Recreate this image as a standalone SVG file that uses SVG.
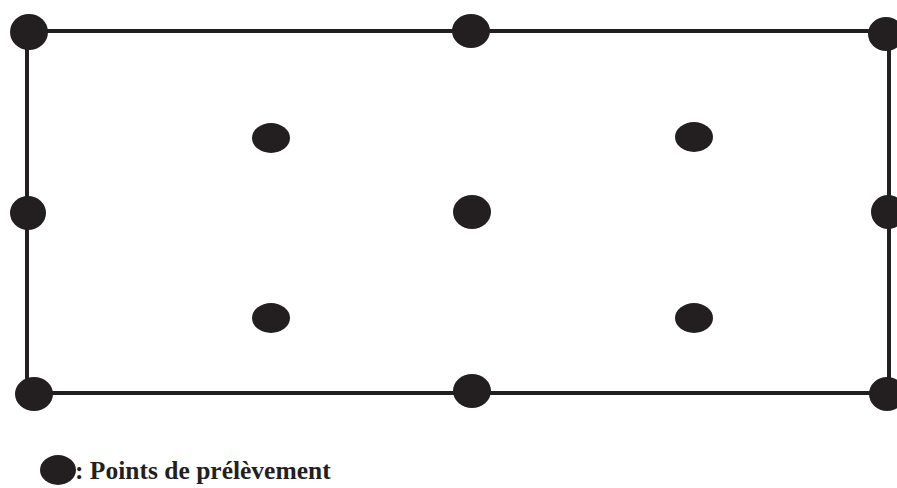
<svg xmlns="http://www.w3.org/2000/svg" width="897" height="488" viewBox="0 0 897 488">
<style>
.frame{fill:none;stroke:#231f20;stroke-width:4}
.pt{fill:#231f20}
.lbl{font-family:"Liberation Serif","Times New Roman",serif;font-weight:bold;font-size:25.5px;fill:#231f20}
</style>
<rect width="897" height="488" fill="#ffffff"/>
<g id="connectors">
<rect class="frame" x="27" y="31" width="862" height="362"/>
</g>
<g id="p-tl"><ellipse class="pt" cx="29" cy="32" rx="19" ry="18"/></g>
<g id="p-tm"><ellipse class="pt" cx="471" cy="31" rx="19" ry="17"/></g>
<g id="p-tr"><ellipse class="pt" cx="886" cy="34" rx="18" ry="17"/></g>
<g id="p-ml"><ellipse class="pt" cx="28" cy="213" rx="18" ry="17"/></g>
<g id="p-c"><ellipse class="pt" cx="472" cy="212" rx="19" ry="17"/></g>
<g id="p-mr"><ellipse class="pt" cx="888" cy="212" rx="17" ry="17"/></g>
<g id="p-bl"><ellipse class="pt" cx="34" cy="394" rx="19" ry="17"/></g>
<g id="p-bm"><ellipse class="pt" cx="472" cy="391" rx="19" ry="17"/></g>
<g id="p-br"><ellipse class="pt" cx="887" cy="394" rx="18" ry="17"/></g>
<g id="p-i1"><ellipse class="pt" cx="271" cy="138" rx="19" ry="15"/></g>
<g id="p-i2"><ellipse class="pt" cx="694" cy="137" rx="19" ry="15"/></g>
<g id="p-i3"><ellipse class="pt" cx="271" cy="318" rx="19" ry="15"/></g>
<g id="p-i4"><ellipse class="pt" cx="694" cy="318" rx="19" ry="15"/></g>
<g id="legend">
<ellipse class="pt" cx="58" cy="470" rx="18" ry="15"/>
<text class="lbl" x="75" y="479">: Points de prélèvement</text>
</g>
</svg>
